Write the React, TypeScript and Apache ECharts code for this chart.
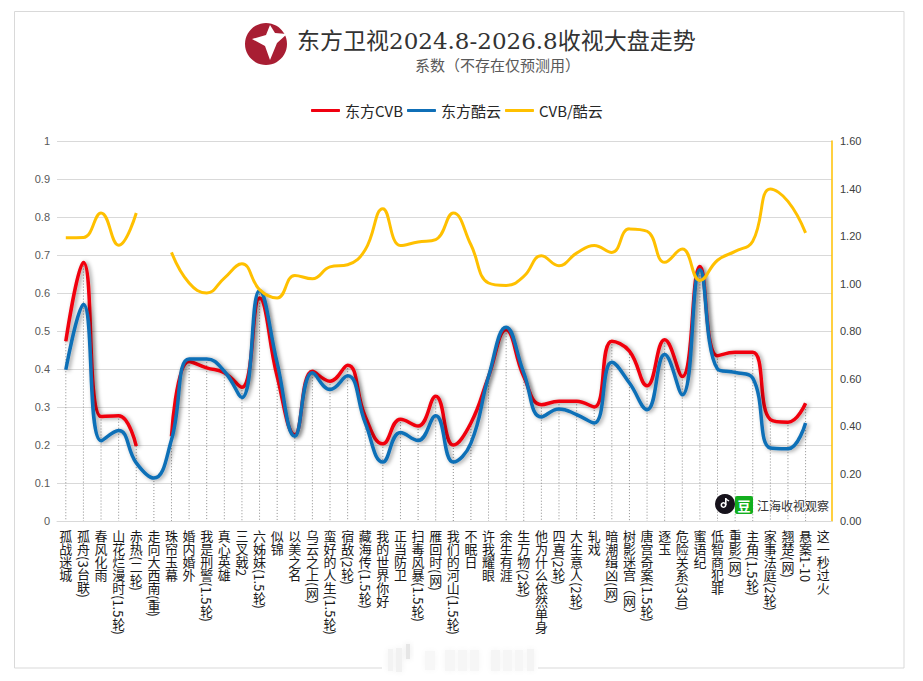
import React, { useEffect, useRef } from "react";
import * as echarts from "echarts";

const categories = [
  "孤战迷城", "孤舟(3台联)", "春风化雨", "山花烂漫时(1.5轮)", "赤热(二轮)", "走向大西南(重)", "珠帘玉幕", "婚内婚外",
  "我是刑警(1.5轮)", "真心英雄", "三叉戟2", "六姊妹(1.5轮)", "似锦", "以美之名", "乌云之上(网)", "蛮好的人生(1.5轮)",
  "宿敌(2轮)", "藏海传(1.5轮)", "我的世界你好", "正当防卫", "扫毒风暴(1.5轮)", "雁回时(网)", "我们的河山(1.5轮)", "不眠日",
  "许我耀眼", "余生有涯", "生万物(2轮)", "他为什么依然单身", "四喜(2轮)", "大生意人(2轮)", "轧戏", "暗潮缉凶(网)",
  "树影迷宫（网）", "唐宫奇案(1.5轮)", "逐玉", "危险关系(3台)", "蜜语纪", "低智商犯罪", "重影(网)", "主角(1.5轮)",
  "家事法庭(2轮)", "翘楚(网)", "悬案1-10", "这一秒过火",
];

const cvb = [
  0.473, 0.68, 0.275, 0.277, 0.197, null, 0.223, 0.42, 0.403, 0.39, 0.352, 0.587, 0.38, 0.227, 0.394,
  0.368, 0.41, 0.275, 0.203, 0.268, 0.25, 0.328, 0.2, 0.258, 0.38, 0.503, 0.38, 0.306, 0.315, 0.315,
  0.3, 0.473, 0.447, 0.356, 0.477, 0.38, 0.67, 0.435, 0.444, 0.444, 0.267, 0.26, 0.31, null,
];

const kuyun = [
  0.398, 0.57, 0.211, 0.238, 0.153, 0.113, 0.214, 0.426, 0.426, 0.394, 0.325, 0.606, 0.416, 0.223, 0.39,
  0.346, 0.382, 0.258, 0.155, 0.233, 0.212, 0.277, 0.155, 0.205, 0.38, 0.51, 0.39, 0.274, 0.295, 0.28,
  0.258, 0.418, 0.363, 0.293, 0.438, 0.332, 0.661, 0.4, 0.391, 0.376, 0.192, 0.19, 0.258, null,
];

const ratio = [
  1.193, 1.194, 1.297, 1.161, 1.297, null, 1.131, 1.002, 0.96, 1.023, 1.083, 0.974, 0.939, 1.034, 1.02,
  1.07, 1.079, 1.142, 1.315, 1.16, 1.175, 1.185, 1.297, 1.163, 1.002, 0.992, 1.03, 1.117, 1.075, 1.128,
  1.16, 1.131, 1.23, 1.22, 1.089, 1.145, 1.013, 1.098, 1.135, 1.178, 1.398, 1.346, 1.213, null,
];

const seriesNames = ["东方CVB", "东方酷云", "CVB/酷云"];
const titleText = "东方卫视2024.8-2026.8收视大盘走势";
const subtitleText = "系数（不存在仅预测用）";
const watermarkText = "江海收视观察";

const CJK = '"Noto Sans CJK SC", "Noto Sans", sans-serif';
const dropData = categories
  .map((_, i) => [i, Math.max(cvb[i] ?? 0, kuyun[i] ?? 0)])
  .filter((d) => d[1] > 0);

const blurStrips = [
  [388, 649, 5, 22, "#f3f3f3"], [396, 648, 6, 24, "#f1f1f1"], [406, 644, 4, 15, "#e6e6e6"], [425, 651, 10, 19, "#f7f7f7"],
  [445, 650, 10, 21, "#f6f6f6"], [458, 650, 9, 21, "#f6f6f6"], [470, 650, 9, 21, "#f6f6f6"], [491, 650, 9, 21, "#f5f5f5"],
  [503, 650, 9, 21, "#f6f6f6"], [515, 650, 8, 21, "#f6f6f6"], [527, 649, 7, 22, "#f4f4f4"],
];

export default function App() {
  const ref = useRef<HTMLDivElement>(null);
  useEffect(() => {
    const chart = echarts.init(ref.current!, null, { renderer: "svg" });
    const lineShadow = { shadowColor: "rgba(0,0,0,0.4)", shadowBlur: 4, shadowOffsetX: 2, shadowOffsetY: 1 };
    chart.setOption({
      animation: false,
      backgroundColor: "#ffffff",
      grid: { left: 57, right: 91, top: 141, bottom: 160 },
      legend: {
        data: seriesNames,
        left: 311,
        top: 103,
        padding: 0,
        icon: "roundRect",
        itemWidth: 29,
        itemHeight: 3,
        itemGap: 4,
        textStyle: { fontFamily: CJK, fontSize: 15, color: "#262626" },
      },
      xAxis: {
        type: "category",
        data: categories,
        axisTick: { show: false },
        axisLine: { lineStyle: { color: "#d9d9d9", width: 1 } },
        axisLabel: { interval: 0, margin: 9, fontFamily: CJK, fontSize: 13, color: "#1a1a1a" },
      },
      yAxis: [
        {
          type: "value", min: 0, max: 1, interval: 0.1,
          axisLine: { show: false }, axisTick: { show: false },
          splitLine: { lineStyle: { color: "#d9d9d9", width: 1 } },
          axisLabel: { margin: 7, fontFamily: '"Liberation Sans", sans-serif', fontSize: 11, color: "#595959" },
        },
        {
          type: "value", min: 0, max: 1.6, interval: 0.2,
          axisLine: { show: true, lineStyle: { color: "#FFC000", width: 1.5 } },
          axisTick: { show: false }, splitLine: { show: false },
          axisLabel: {
            margin: 8, fontFamily: '"Liberation Sans", sans-serif', fontSize: 11, color: "#404040",
            formatter: (v: number) => v.toFixed(2),
          },
        },
      ],
      series: [
        {
          type: "custom",
          name: "drop",
          silent: true,
          z: 1,
          data: dropData,
          encode: { x: 0, y: 1 },
          renderItem: (_: any, api: any) => {
            const top = api.coord([api.value(0), api.value(1)]);
            const bottom = api.coord([api.value(0), 0]);
            return {
              type: "line",
              shape: { x1: top[0], y1: top[1], x2: bottom[0], y2: bottom[1] },
              style: { stroke: "#8c8c8c", lineWidth: 1, lineDash: [1, 2] },
            };
          },
        },
        {
          type: "line", name: seriesNames[0], data: cvb, smooth: 0.45, symbol: "none", z: 3,
          itemStyle: { color: "#F00010" },
          lineStyle: { color: "#F00010", width: 3.5, ...lineShadow },
        },
        {
          type: "line", name: seriesNames[1], data: kuyun, smooth: 0.45, symbol: "none", z: 4,
          itemStyle: { color: "#0F6FB7" },
          lineStyle: { color: "#0F6FB7", width: 3.5, ...lineShadow },
        },
        {
          type: "line", name: seriesNames[2], data: ratio, yAxisIndex: 1, smooth: 0.45, symbol: "none", z: 5,
          itemStyle: { color: "#FFC000" },
          lineStyle: { color: "#FFC000", width: 3 },
        },
      ],
      graphic: [
        { type: "rect", silent: true, z: 0, shape: { x: 14.5, y: 11.5, width: 889.5, height: 656.5 }, style: { fill: "none", stroke: "#d9d9d9", lineWidth: 1 } },
        { type: "circle", shape: { cx: 266, cy: 44, r: 21 }, style: { fill: "#A81E33" } },
        {
          type: "polygon",
          shape: { points: [[252, 39], [266, 35], [270, 25], [275, 33], [287, 34], [277, 43], [270, 60], [265, 46]] },
          style: { fill: "#ffffff" },
        },
        { type: "text", x: 297, y: 41, style: { text: titleText, fontFamily: '"DejaVu Serif", "Noto Sans CJK SC", serif', fontSize: 23, fill: "#333333", verticalAlign: "middle" } },
        { type: "text", x: 415, y: 64, style: { text: subtitleText, fontFamily: CJK, fontSize: 15, fill: "#595959", verticalAlign: "middle" } },
        { type: "rect", z: 8, shape: { x: 382, y: 642, width: 156, height: 32 }, style: { fill: "#ffffff" } },
        ...blurStrips.map((s) => ({
          type: "rect", z: 9,
          shape: { x: s[0], y: s[1], width: s[2], height: s[3] },
          style: { fill: s[4], shadowBlur: 6, shadowColor: s[4] },
        })),
        { type: "circle", z: 9, shape: { cx: 725, cy: 504, r: 10 }, style: { fill: "#17131c" } },
        { type: "circle", z: 10, shape: { cx: 723.5, cy: 505, r: 2.2 }, style: { fill: "none", stroke: "#ffffff", lineWidth: 1.6 } },
        { type: "line", z: 10, shape: { x1: 725.8, y1: 505, x2: 725.8, y2: 498 }, style: { stroke: "#ffffff", lineWidth: 1.6 } },
        { type: "line", z: 10, shape: { x1: 725.8, y1: 499, x2: 729, y2: 501 }, style: { stroke: "#ffffff", lineWidth: 1.4 } },
        { type: "rect", z: 9, shape: { x: 735, y: 496, width: 18, height: 18, r: 2 }, style: { fill: "#12AE1E" } },
        { type: "text", z: 10, x: 744, y: 505, style: { text: "豆", fontFamily: CJK, fontSize: 13, fontWeight: 700, fill: "#ffffff", align: "center", verticalAlign: "middle" } },
        { type: "text", z: 10, x: 757, y: 505, style: { text: watermarkText, fontFamily: CJK, fontSize: 12, fill: "#333333", verticalAlign: "middle" } },
      ],
    });

    // Category labels are set vertically, the way the original sheet shows them.
    const names = new Set(categories);
    const verticalise = () => {
      ref.current?.querySelectorAll("text").forEach((t) => {
        if (names.has(t.textContent || "")) {
          t.style.writingMode = "vertical-rl";
          t.setAttribute("text-anchor", "start");
          t.setAttribute("y", "0");
        }
      });
    };
    verticalise();
    chart.on("finished", verticalise);
    return () => chart.dispose();
  }, []);
  return <div ref={ref} style={{ position: "absolute", left: 0, top: 0, width: 923, height: 681 }} />;
}
